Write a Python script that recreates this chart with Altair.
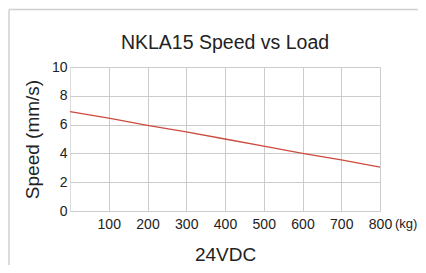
import altair as alt
import pandas as pd

# Data
load_kg = [0, 100, 200, 300, 400, 500, 600, 700, 800]
speed_mms = [6.9, 6.45, 5.95, 5.5, 5.0, 4.5, 4.0, 3.55, 3.05]
x_ticks = [100, 200, 300, 400, 500, 600, 700, 800]
y_ticks = [0, 2, 4, 6, 8, 10]
unit_label = ["(kg)"]
chart_title = ["NKLA15 Speed vs Load"]

df = pd.DataFrame({"load": load_kg, "speed": speed_mms})
unit_df = pd.DataFrame({"load": [800], "speed": [0], "txt": unit_label})
title_df = pd.DataFrame({"txt": chart_title})

FONT = "Liberation Sans"
TXT = "#222222"
GRID = "#cccccc"
LBL = 14

W, H = 310, 144
PAD_L, PAD_T = 62, 59
PAD_R = 410 - PAD_L - W
PAD_B = 257 - PAD_T - H

x_enc = alt.X(
    "load:Q",
    scale=alt.Scale(domain=[0, 800], nice=False, zero=True),
    axis=alt.Axis(
        values=x_ticks,
        title="24VDC",
        titleFontSize=19,
        titleFont=FONT,
        titleFontWeight="normal",
        titleColor=TXT,
        titlePadding=14,
        labelFontSize=LBL,
        labelFont=FONT,
        labelColor=TXT,
        labelPadding=6.5,
        labelFlush=False,
        labelOverlap=False,
        ticks=False,
        tickSize=0,
        domain=False,
        grid=True,
        gridColor=GRID,
        gridWidth=1,
    ),
)
y_enc = alt.Y(
    "speed:Q",
    scale=alt.Scale(domain=[0, 10], nice=False),
    axis=alt.Axis(
        values=y_ticks,
        title="Speed (mm/s)",
        titleFontSize=19,
        titleFont=FONT,
        titleFontWeight="normal",
        titleColor=TXT,
        titlePadding=9,
        labelFontSize=LBL,
        labelFont=FONT,
        labelColor=TXT,
        labelPadding=3,
        labelFlush=False,
        labelOverlap=False,
        ticks=False,
        tickSize=0,
        domain=False,
        grid=True,
        gridColor=GRID,
        gridWidth=1,
    ),
)

line = alt.Chart(df).mark_line(color="#cc4a3e", strokeWidth=1.3).encode(x=x_enc, y=y_enc)

unit = alt.Chart(unit_df).mark_text(
    align="left", baseline="top", dx=15, dy=7, fontSize=13, font=FONT, color=TXT
).encode(x=x_enc, y=y_enc, text="txt:N")

title_mark = alt.Chart(title_df).mark_text(
    align="center", baseline="alphabetic", fontSize=19.5, font=FONT, color=TXT
).encode(x=alt.value(W / 2), y=alt.value(-18.5), text="txt:N")

frame_top = alt.Chart(unit_df).mark_rule(color="#d0d0d0", strokeWidth=1.5).encode(
    x=alt.value(-PAD_L + 1), x2=alt.value(W + PAD_R), y=alt.value(-PAD_T + 1.5)
)
frame_left = alt.Chart(unit_df).mark_rule(color="#d0d0d0", strokeWidth=1.5).encode(
    x=alt.value(-PAD_L + 1), y=alt.value(-PAD_T + 1.5), y2=alt.value(H + PAD_B)
)

chart = (
    alt.layer(line, unit, title_mark, frame_top, frame_left)
    .properties(
        width=W,
        height=H,
        autosize=alt.AutoSizeParams(type="none"),
        padding={"left": PAD_L, "top": PAD_T, "right": PAD_R, "bottom": PAD_B},
    )
    .configure_view(stroke=GRID, strokeWidth=1)
    .configure(background="white")
)

chart.save("out.html", embed_options={"renderer": "svg", "actions": False})
